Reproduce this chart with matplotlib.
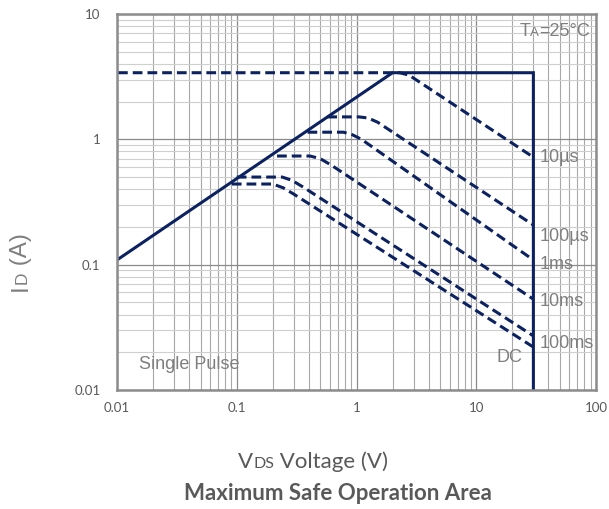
import matplotlib
matplotlib.use("Agg")
import matplotlib.pyplot as plt
from matplotlib.ticker import LogLocator, NullFormatter
from matplotlib.transforms import IdentityTransform

# limit line (solid) and pulse curves (dashed), V in volts, I in amps
limit_v = [0.01, 2.0, 30, 30]
limit_i = [0.109, 3.4, 3.4, 0.01]

curves = {
    "10µs":  ([0.0102, 2.3, 2.75, 30], [3.4, 3.4, 3.25, 0.72]),
    "100µs": ([0.57, 1.05, 1.25, 1.5, 30], [1.51, 1.51, 1.48, 1.37, 0.207]),
    "1ms":   ([0.39, 0.78, 0.92, 1.1, 30], [1.14, 1.14, 1.09, 1.0, 0.109]),
    "10ms":  ([0.217, 0.41, 0.5, 0.62, 30], [0.736, 0.736, 0.70, 0.62, 0.053]),
    "100ms": ([0.1, 0.24, 0.29, 0.36, 30], [0.5, 0.5, 0.47, 0.415, 0.027]),
    "DC":    ([0.091, 0.2, 0.245, 0.3, 30], [0.44, 0.44, 0.41, 0.365, 0.022]),
}
# where the curve labels sit
label_x = {"10µs": 34, "100µs": 34, "1ms": 34, "10ms": 34, "100ms": 34, "DC": 24.5}
label_y = {"10µs": 0.72, "100µs": 0.169, "1ms": 0.101, "10ms": 0.051, "100ms": 0.0237, "DC": 0.0183}

xticks = [0.01, 0.1, 1, 10, 100]
xtick_labels = ["0.01", "0.1", "1", "10", "100"]
yticks = [0.01, 0.1, 1, 10]
ytick_labels = ["0.01", "0.1", "1", "10"]

navy = "#0b2160"
grey = "#7f7f7f"
dark = "#595959"
arial = "Liberation Sans"
calibri = "Lato"

plt.rcParams["lines.scale_dashes"] = False

fig = plt.figure(figsize=(6.09, 5.09), dpi=100)
ax = fig.add_axes([117/609, 119/509, 479/609, 376/509])

ax.plot(limit_v, limit_i, color=navy, lw=2.2, solid_joinstyle="miter")
for name in curves:
    v, i = curves[name]
    ax.plot(v, i, color=navy, lw=2.2, linestyle=(0, (7, 3.6)))

ax.set_xscale("log")
ax.set_yscale("log")
ax.set_xlim(0.01, 100)
ax.set_ylim(0.01, 10)

ax.xaxis.set_minor_locator(LogLocator(base=10, subs=range(2, 10)))
ax.yaxis.set_minor_locator(LogLocator(base=10, subs=range(2, 10)))
ax.xaxis.set_minor_formatter(NullFormatter())
ax.yaxis.set_minor_formatter(NullFormatter())
ax.set_xticks(xticks, labels=xtick_labels)
ax.set_yticks(yticks, labels=ytick_labels)
ax.tick_params(which="both", length=0)
ax.tick_params(axis="x", pad=9)
ax.tick_params(axis="y", pad=12)
for lab in ax.get_xticklabels() + ax.get_yticklabels():
    lab.set_fontfamily(calibri)
    lab.set_fontsize(9.5)
    lab.set_color(dark)

ax.xaxis.grid(True, which="major", color="#8a8a8a", lw=0.9)
ax.yaxis.grid(True, which="major", color="#8a8a8a", lw=0.9)
ax.xaxis.grid(True, which="minor", color="#a8a8a8", lw=0.8)
ax.yaxis.grid(True, which="minor", color="#cfcfcf", lw=0.8)
ax.set_axisbelow(True)
for s in ax.spines.values():
    s.set_color("#8c8c8c")
    s.set_linewidth(1.8)

for name in curves:
    ha = "right" if name == "DC" else "left"
    ax.text(label_x[name], label_y[name], name, ha=ha, va="center",
            fontsize=13, family=arial, color=grey)
ax.text(0.0153, 0.0161, "Single Pulse", ha="left", va="center",
        fontsize=13, family=arial, color=grey)


def mixed(parts, x, y, ha="left", rot=0, color=grey, family=arial, weight="normal"):
    r = fig.canvas.get_renderer()
    ws = []
    for s, fs in parts:
        t = fig.text(0, 0, s, fontsize=fs, family=family, weight=weight)
        ws.append(t.get_window_extent(r).width)
        t.remove()
    total = sum(ws)
    start = {"left": 0, "center": total / 2, "right": total}[ha]
    pos = (y if rot else x) - start
    for (s, fs), w in zip(parts, ws):
        if rot:
            fig.text(x, pos, s, transform=IdentityTransform(), rotation=90,
                     rotation_mode="anchor", ha="left", va="baseline",
                     fontsize=fs, family=family, weight=weight, color=color)
        else:
            fig.text(pos, y, s, transform=IdentityTransform(), ha="left",
                     va="baseline", fontsize=fs, family=family, weight=weight, color=color)
        pos += w


fig.canvas.draw()
mixed([("T", 13), ("A", 9.5), ("=25°C", 13)], 590, 509 - 36, ha="right")
mixed([("I", 17.5), ("D", 12.5), (" (A)", 17.5)], 27, 509 - 262, ha="center", rot=90)
mixed([("V", 16), ("DS", 11.5), (" Voltage (V)", 16)], 313, 509 - 468,
      ha="center", color=dark, family=calibri)
fig.text(338/609, (509 - 500)/509, "Maximum Safe Operation Area", ha="center",
         va="baseline", fontsize=16, family=calibri, weight="bold", color=dark)

fig.savefig("out.png", dpi=100)
